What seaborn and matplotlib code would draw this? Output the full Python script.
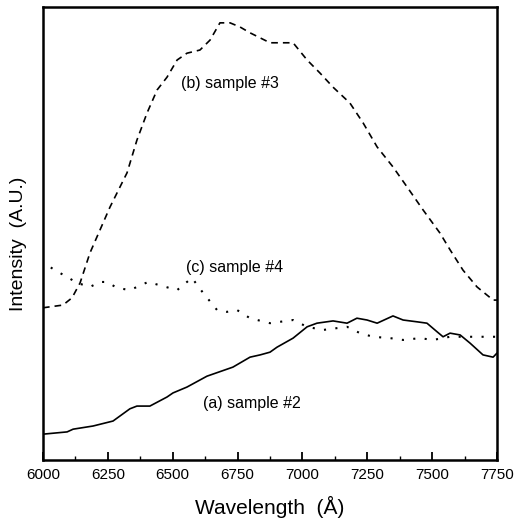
import numpy as np
import pandas as pd
import matplotlib
matplotlib.use("Agg")
import matplotlib.pyplot as plt
import seaborn as sns
from matplotlib.ticker import MultipleLocator

# Photoluminescence spectra, wavelength in Å, intensity in arbitrary units
wl_a = [6000, 6093, 6116, 6193, 6270, 6335, 6362, 6412, 6478, 6501, 6555, 6632,
        6732, 6798, 6837, 6875, 6902, 6964, 7018, 7056, 7118, 7172, 7210, 7249,
        7288, 7349, 7388, 7442, 7480, 7519, 7542, 7569, 7608, 7646, 7696, 7735, 7750]
int_a = [5.7, 6.2, 6.8, 7.5, 8.6, 11.3, 11.9, 11.9, 13.9, 14.8, 16.1, 18.5,
         20.5, 22.7, 23.2, 23.8, 24.9, 26.9, 29.4, 30.2, 30.7, 30.2, 31.3, 30.9,
         30.2, 31.8, 30.9, 30.5, 30.2, 28.3, 27.2, 28.0, 27.6, 25.8, 23.2, 22.7, 23.6]

wl_b = [6000, 6077, 6112, 6143, 6181, 6258, 6324, 6362, 6401, 6440, 6478, 6517,
        6555, 6605, 6644, 6682, 6721, 6759, 6798, 6875, 6964, 7018, 7068, 7118,
        7183, 7234, 7288, 7349, 7403, 7465, 7530, 7569, 7619, 7673, 7735, 7750]
int_b = [33.6, 34.2, 35.8, 39.1, 45.7, 55.8, 63.4, 70.6, 76.6, 81.7, 84.5, 88.3,
         89.8, 90.5, 92.7, 96.5, 96.5, 95.6, 94.3, 92.1, 92.1, 88.3, 85.4, 82.3,
         78.8, 74.4, 69.1, 64.7, 60.3, 55.2, 50.1, 46.4, 41.9, 38.2, 35.3, 35.3]

wl_c = [6030, 6046, 6093, 6131, 6181, 6220, 6247, 6285, 6335, 6405, 6517, 6574,
        6617, 6671, 6709, 6748, 6798, 6875, 6964, 7018, 7079, 7172, 7222, 7272,
        7338, 7388, 7453, 7503, 7569, 7619, 7696, 7750]
int_c = [42.5, 41.9, 40.4, 39.1, 38.2, 39.3, 39.3, 38.0, 37.5, 39.3, 37.5, 40.2,
         36.9, 33.1, 32.7, 33.1, 31.3, 30.2, 30.9, 29.4, 28.7, 29.4, 28.0, 27.2,
         26.9, 26.5, 26.9, 26.5, 27.2, 27.2, 27.2, 27.2]

xticks = [6000, 6250, 6500, 6750, 7000, 7250, 7500, 7750]
labels = ["(a) sample #2", "(b) sample #3", "(c) sample #4"]

sns.set_theme(style="ticks")
plt.rcParams["font.family"] = ["Liberation Sans", "DejaVu Sans"]
plt.rcParams["text.color"] = "black"
plt.rcParams["axes.labelcolor"] = "black"
plt.rcParams["xtick.color"] = "black"
plt.rcParams["xtick.labelcolor"] = "black"

fig = plt.figure(figsize=(5.16, 5.26), dpi=100)
ax = fig.add_axes([0.0833, 0.1255, 0.8799, 0.8612])

df_a = pd.DataFrame({"wl": wl_a, "I": int_a})
df_b = pd.DataFrame({"wl": wl_b, "I": int_b})
df_c = pd.DataFrame({"wl": wl_c, "I": int_c})

sns.lineplot(data=df_a, x="wl", y="I", ax=ax, color="black", lw=1.2)
sns.lineplot(data=df_b, x="wl", y="I", ax=ax, color="black", lw=1.2,
             linestyle=(0, (4, 3)))
sns.lineplot(data=df_c, x="wl", y="I", ax=ax, color="black", lw=1.5,
             linestyle=(0, (1, 4.5)))

ax.set_xlim(6000, 7750)
ax.set_ylim(0, 100)
ax.set_xticks(xticks)
ax.set_xticklabels([str(t) for t in xticks], fontsize=11)
ax.xaxis.set_minor_locator(MultipleLocator(125))
ax.set_yticks([])
ax.tick_params(axis="x", which="major", direction="in", length=6, width=1.3,
               pad=6, colors="black")
ax.tick_params(axis="x", which="minor", direction="in", length=3, width=1.0,
               colors="black")

for s in ax.spines.values():
    s.set_linewidth(1.8)
    s.set_color("black")

ax.set_xlabel("Wavelength  (Å)", fontsize=15, labelpad=10)
ax.set_ylabel("Intensity  (A.U.)", fontsize=14)
ax.yaxis.set_label_coords(-0.036, 0.478)

ax.text(6719, 83.2, labels[1], fontsize=11.5, ha="center", va="center")
ax.text(6740, 42.4, labels[2], fontsize=11.5, ha="center", va="center")
ax.text(6806, 12.4, labels[0], fontsize=11.5, ha="center", va="center")

fig.savefig("out.png", dpi=100)
